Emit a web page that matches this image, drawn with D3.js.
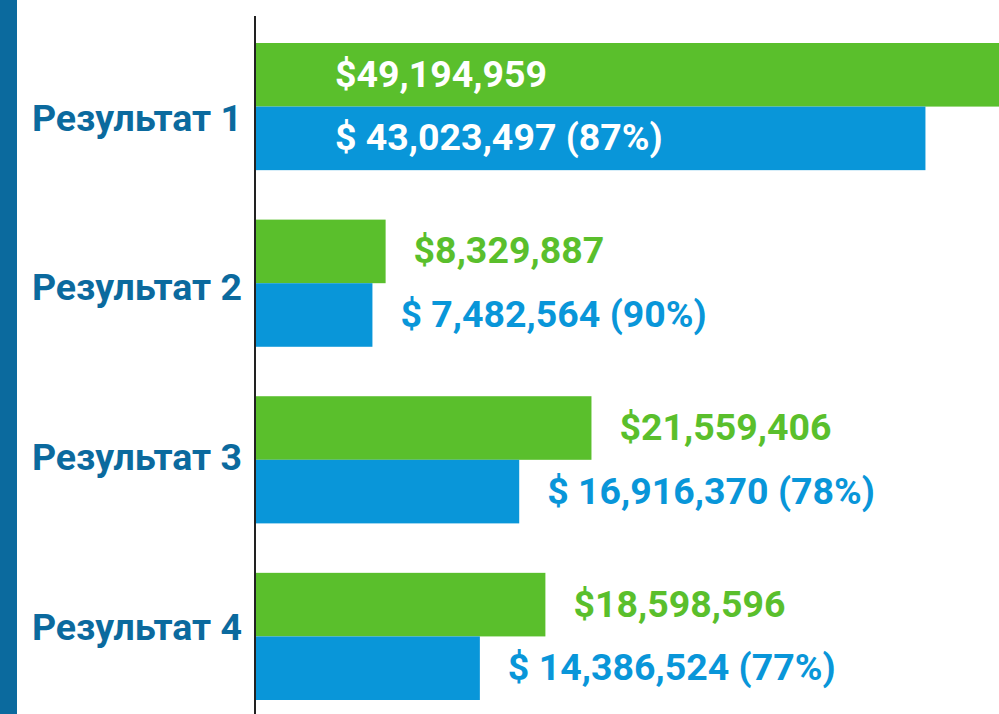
<!DOCTYPE html>
<html>
<head>
<meta charset="utf-8">
<script src="https://cdn.jsdelivr.net/npm/d3@7"></script>
<style>
  html, body { margin: 0; padding: 0; background: #fff; }
  svg { display: block; font-family: Roboto, "Noto Sans", sans-serif; font-weight: bold; }
</style>
</head>
<body>
<div id="chart"></div>
<script>
var categories = ["Результат 1", "Результат 2", "Результат 3", "Результат 4"];
var planned = [49194959, 8329887, 21559406, 18598596];
var actual = [43023497, 7482564, 16916370, 14386524];
var shares = [87, 90, 78, 77];

var width = 999,
    height = 714,
    axisX = 256,
    green = "#5abf2c",
    blue = "#0996d9",
    dark = "#0b6a9e";

var svg = d3.select("#chart").append("svg")
    .attr("width", width)
    .attr("height", height);

// left stripe
svg.append("rect")
    .attr("x", 0)
    .attr("y", 0)
    .attr("width", 17)
    .attr("height", height)
    .style("fill", dark);

var x = d3.scaleLinear()
    .domain([0, 48e6])
    .range([axisX, axisX + 48 * 15.56]);

var y = d3.scaleBand()
    .domain(categories)
    .range([43, 700])
    .paddingInner(0.28);

var inner = d3.scaleBand()
    .domain(["planned", "actual"])
    .range([0, y.bandwidth()]);

// category labels sit on their own point scale
var labelY = d3.scalePoint()
    .domain(categories)
    .range([118, 627]);

var rows = categories.map(function(c, i) {
    return {
        cat: c,
        bars: [
            {key: "planned", value: planned[i], label: "$" + d3.format(",")(planned[i]), color: green},
            {key: "actual", value: actual[i], label: "$ " + d3.format(",")(actual[i]) + " (" + shares[i] + "%)", color: blue}
        ]
    };
});

var row = svg.selectAll(".row")
    .data(rows)
  .enter().append("g")
    .attr("class", "row")
    .attr("transform", function(d) { return "translate(0," + y(d.cat) + ")"; });

row.selectAll("rect")
    .data(function(d) { return d.bars; })
  .enter().append("rect")
    .attr("x", x(0))
    .attr("y", function(d) { return inner(d.key); })
    .attr("width", function(d) { return x(d.value) - x(0); })
    .attr("height", inner.bandwidth())
    .style("fill", function(d) { return d.color; });

// value labels: outside the bar, or inside when they would run off the page
row.each(function(d) {
    var g = d3.select(this);
    var texts = g.selectAll(".value")
        .data(d.bars)
      .enter().append("text")
        .attr("class", "value")
        .attr("y", function(b) { return inner(b.key) + inner.bandwidth() / 2; })
        .attr("dy", ".32em")
        .style("font-size", "37.5px")
        .text(function(b) { return b.label; });

    var fits = true;
    texts.each(function(b) {
        if (x(b.value) + 28 + this.getComputedTextLength() > width) fits = false;
    });

    texts
        .attr("x", function(b) { return fits ? x(b.value) + 28 : x(0) + 79; })
        .style("fill", function(b) { return fits ? b.color : "#fff"; });
});

// category labels
svg.selectAll(".cat-label")
    .data(categories)
  .enter().append("text")
    .attr("class", "cat-label")
    .attr("x", 242)
    .attr("y", function(d) { return labelY(d); })
    .attr("dy", ".34em")
    .attr("text-anchor", "end")
    .style("font-size", "37.5px")
    .style("fill", dark)
    .text(function(d) { return d; });

// axis line
svg.append("line")
    .attr("x1", axisX - 1)
    .attr("x2", axisX - 1)
    .attr("y1", 16)
    .attr("y2", height)
    .style("stroke", "#222")
    .style("stroke-width", 2);
</script>
</body>
</html>
